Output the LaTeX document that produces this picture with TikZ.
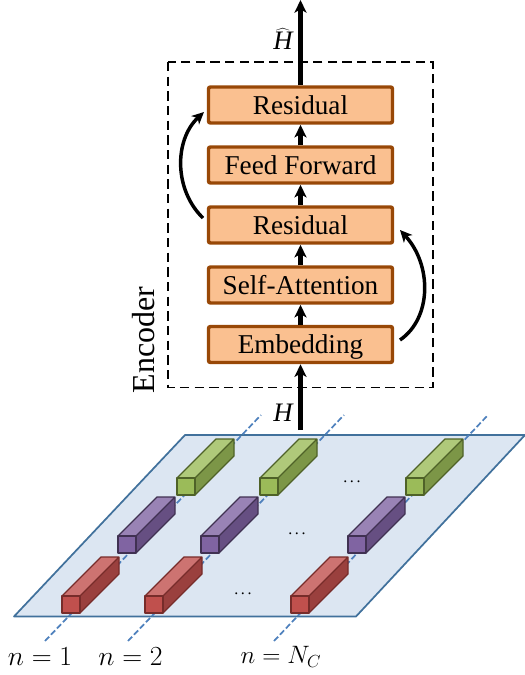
\documentclass[tikz,border=0pt]{standalone}
\usepackage{fontspec}
\setmainfont{Liberation Serif}
\usetikzlibrary{arrows.meta}
\definecolor{boxfill}{HTML}{FAC090}
\definecolor{boxedge}{HTML}{984807}
\definecolor{planefill}{HTML}{DCE6F2}
\definecolor{planeedge}{HTML}{41719C}
\definecolor{gridline}{HTML}{4F81BD}
\definecolor{redF}{HTML}{C0504D}\definecolor{redT}{HTML}{CD7371}\definecolor{redS}{HTML}{9A403E}\definecolor{redE}{HTML}{772C2A}
\definecolor{purF}{HTML}{8064A2}\definecolor{purT}{HTML}{9983B5}\definecolor{purS}{HTML}{664F82}\definecolor{purE}{HTML}{403152}
\definecolor{greF}{HTML}{9BBB59}\definecolor{greT}{HTML}{AFC97A}\definecolor{greS}{HTML}{7C9647}\definecolor{greE}{HTML}{4F6228}
\tikzset{
  x=0.75pt,y=-0.75pt,
  block/.style={draw=boxedge,fill=boxfill,line width=2.6pt,rounded corners=1.5pt,minimum width=138pt,minimum height=27pt,inner sep=0pt,text height=15.5pt,text depth=2pt,font=\fontsize{20.4}{22}\selectfont},
  flow/.style={line width=3.1pt,-{Stealth[length=9.5pt,width=9pt,inset=2.5pt]}},
  skip/.style={line width=2.6pt,-{Stealth[length=9pt,width=8.5pt,inset=2.5pt]}},
  label/.style={inner sep=0pt,font=\fontsize{22}{24}\selectfont},
  hlabel/.style={inner sep=0pt,font=\fontsize{20}{22}\selectfont},
  gridlink/.style={draw=gridline,line width=1.3pt,dash pattern=on 4.5pt off 2pt},
  dots/.style={inner sep=0pt,font=\fontsize{12}{14}\selectfont},
}
\newcommand{\prism}[3]{%
  \fill[#3T] (#1,#2) -- ++(39,-39) -- ++(18,0) -- ++(-39,39) -- cycle;
  \fill[#3S] (#1+18,#2) -- ++(39,-39) -- ++(0,17) -- ++(-39,39) -- cycle;
  \draw[#3E,line width=1pt,line join=round,fill=#3F] (#1,#2) rectangle ++(18,17);
  \draw[#3E,line width=1pt,line join=round] (#1,#2) -- ++(39,-39) -- ++(18,0) -- ++(0,17) -- ++(-39,39) (#1+18,#2) -- ++(39,-39);
}
\begin{document}
\begin{tikzpicture}
\useasboundingbox (0,0) rectangle (525,675);
% plane
\draw[draw=planeedge,fill=planefill,line width=1.3pt,line join=round] (185,435) -- (525,435) -- (356,616.5) -- (14,616.5) -- cycle;
% grid lines
\coordinate (a1) at (45,641); \coordinate (a2) at (261,415);
\coordinate (b1) at (128,641); \coordinate (b2) at (344,415);
\coordinate (c1) at (274,641); \coordinate (c2) at (488,415);
\draw[gridlink] (a1) -- (a2);
\draw[gridlink] (b1) -- (b2);
\draw[gridlink] (c1) -- (c2);
% prisms
\prism{177}{478}{gre}\prism{260}{478}{gre}\prism{406}{478}{gre}
\prism{118}{536}{pur}\prism{201}{536}{pur}\prism{348}{536}{pur}
\prism{62}{596}{red}\prism{145}{596}{red}\prism{291}{596}{red}
\node[dots] (d1) at (352,482) {.\,.\,.};
\node[dots] (d2) at (297,534) {.\,.\,.};
\node[dots] (d3) at (243,594) {.\,.\,.};
% encoder frame
\draw[line width=1.2pt,dash pattern=on 7pt off 4pt] (168,62) rectangle (433,387.5);
\node[inner sep=0pt,rotate=90,font=\fontsize{24}{26}\selectfont] (enc) at (144,340) {Encoder};
% blocks
\node[block] (res2) at (300.5,105) {Residual};
\node[block] (ff) at (300.5,165) {Feed Forward};
\node[block] (res1) at (300.5,225) {Residual};
\node[block] (sa) at (300.5,285) {Self-Attention};
\node[block] (emb) at (300.5,344.5) {Embedding};
% connectors
\coordinate (top) at (300.5,0);
\coordinate (in) at (300.5,430);
\draw[flow] (in) -- (emb.south);
\draw[flow] (emb.north) -- (sa.south);
\draw[flow] (sa.north) -- (res1.south);
\draw[flow] (res1.north) -- (ff.south);
\draw[flow] (ff.north) -- (res2.south);
\draw[flow] (res2.north) -- (top);
\coordinate (l1) at (203,218); \coordinate (l2) at (204,112);
\coordinate (r1) at (400,340); \coordinate (r2) at (400,230);
\draw[skip] (l1) .. controls (174,190) and (174,140) .. (l2);
\draw[skip] (r1) .. controls (432,318) and (432,265) .. (r2);
% labels
\node[hlabel] (Hhat) at (283,39) {$\widehat{\mbox{\itshape H}}$};
\node[hlabel] (Hin) at (283,413) {\itshape H};
\node[label] (n1) at (40,657) {$n=1$};
\node[label] (n2) at (130.5,657) {$n=2$};
\node[label,scale=0.91] (n3) at (281,657) {$n=N_C$};
\end{tikzpicture}
\end{document}
